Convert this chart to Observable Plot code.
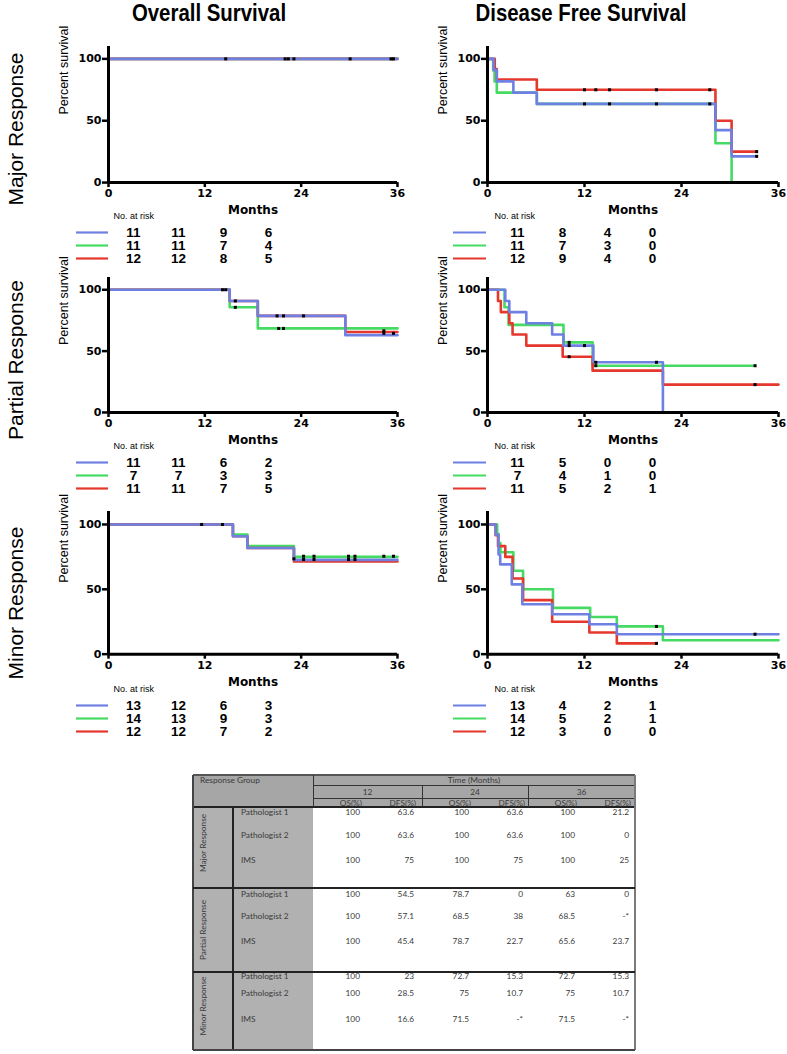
<!DOCTYPE html>
<html><head><meta charset="utf-8">
<script src="https://cdn.jsdelivr.net/npm/d3@7"></script>
<script src="https://cdn.jsdelivr.net/npm/@observablehq/plot@0.6"></script>
<style>
body{margin:0;background:#fff;}
#root{position:relative;width:787px;height:1054px;overflow:hidden;background:#fff;}
#root svg{position:absolute;}
.title{position:absolute;font-family:"Liberation Sans",Arial,sans-serif;font-weight:bold;font-size:24px;color:#000;white-space:nowrap;transform:translate(-50%,-50%) scaleX(0.85);}
.rowlab{position:absolute;font-family:"Liberation Sans",Arial,sans-serif;font-size:21px;color:#000;white-space:nowrap;transform:translate(-50%,-50%) rotate(-90deg);}
.tt{position:absolute;font-family:Lato,"Open Sans",sans-serif;font-size:8.3px;color:#3a3a3a;white-space:nowrap;line-height:1;}
.ln{position:absolute;}
</style></head><body><div id="root"></div><script>
// ---------------- DATA ----------------
const endpoints = ["Overall Survival", "Disease Free Survival"];
const responseGroups = ["Major Response", "Partial Response", "Minor Response"];
const raters = ["Pathologist 1", "Pathologist 2", "IMS"];
const raterColors = ["#6f80e3", "#45da62", "#e5372c"];
const xTicks = [0, 12, 24, 36];
const yTicks = [0, 50, 100];
const riskTimes = [0, 12, 24, 36];

// Kaplan-Meier step points [month, percent] — Major response
const osMajorP1 = [[0,100],[36,100]];
const osMajorP2 = [[0,100],[36,100]];
const osMajorIMS = [[0,100],[36,100]];
const osMajorCensor = [[14.6,100],[22.0,100],[22.4,100],[23.1,100],[30.1,100],[35.2,100],[35.5,100]];
const dfsMajorP1 = [[0,100],[0.75,90.9],[1.15,81.8],[3.2,72.7],[6.1,63.6],[28.2,42.4],[30.2,21.2],[33.3,21.2]];
const dfsMajorP2 = [[0,100],[0.7,90.9],[0.87,81.8],[1.15,72.7],[6.1,63.6],[28.2,31.8],[30.2,0]];
const dfsMajorIMS = [[0,100],[0.9,91.7],[1.15,83.3],[6.1,75],[28.2,50],[30.2,25],[33.3,25]];
const dfsMajorCensor = [[12.0,75],[13.4,75],[15.1,75],[20.9,75],[27.5,75],[12.0,63.6],[15.1,63.6],[20.9,63.6],[27.5,63.6],[33.3,25],[33.3,21.2]];
// Partial response
const osPartialP1 = [[0,100],[15.1,90.9],[18.6,78.7],[29.5,63],[36,63]];
const osPartialP2 = [[0,100],[15.1,85.7],[18.6,68.5],[36,68.5]];
const osPartialIMS = [[0,100],[15.1,90.9],[18.6,78.7],[29.5,65.6],[36,65.6]];
const osPartialCensor = [[14.2,100],[14.6,100],[15.8,90.9],[15.8,85.7],[21.0,78.7],[21.8,78.7],[24.3,78.7],[21.2,68.5],[21.8,68.5],[34.3,66.5],[34.3,64.5],[35.5,64.5]];
const dfsPartialP1 = [[0,100],[2.2,90.9],[2.7,81.8],[4.8,72.7],[8.0,63.6],[9.4,54.5],[13.1,40.9],[21.7,0]];
const dfsPartialP2 = [[0,100],[2.1,85.7],[2.6,71.4],[9.4,57.1],[13.0,38.1],[33.1,38.1]];
const dfsPartialIMS = [[0,100],[1.3,90.9],[1.65,81.8],[2.7,72.7],[3.1,63.6],[4.8,54.5],[9.3,45.4],[13.0,34.1],[21.7,22.7],[36,22.7]];
const dfsPartialCensor = [[10.1,57.1],[10.1,54.5],[10.1,45.4],[12.0,54.5],[13.4,40.9],[13.4,38.1],[20.9,40.9],[33.1,38.1],[33.1,22.7]];
// Minor response
const osMinorP1 = [[0,100],[15.5,90.9],[17.3,81.8],[23.1,72.7],[36,72.7]];
const osMinorP2 = [[0,100],[15.5,92.3],[17.3,83.3],[23.1,75],[36,75]];
const osMinorIMS = [[0,100],[15.5,90.9],[17.3,81.8],[23.1,71.5],[36,71.5]];
const osMinorCensor = [[11.6,100],[14.2,100],[23.1,73.5],[24.3,75.5],[24.3,73],[25.6,75.5],[25.6,73],[29.9,75.5],[29.9,73],[30.7,75.5],[30.7,73],[34.3,75.5],[35.5,75.5]];
const dfsMinorP1 = [[0,100],[1.0,92.3],[1.36,76.9],[1.57,69.2],[3.0,53.8],[4.3,38.5],[8.0,30.8],[12.6,23.1],[16.0,15.4],[36,15.4]];
const dfsMinorP2 = [[0,100],[1.2,92.9],[1.36,85.7],[1.6,78.6],[3.2,64.3],[4.4,50],[8.1,35.7],[12.7,28.6],[16.0,21.4],[21.7,10.7],[36,10.7]];
const dfsMinorIMS = [[0,100],[1.0,91.7],[1.3,83.3],[2.2,75],[3.1,58.3],[4.4,41.7],[8.0,25],[12.6,16.7],[16.0,8.3],[20.9,8.3]];
const dfsMinorCensor = [[20.9,21.4],[20.9,8.3],[33.1,15.4]];

// Numbers at risk (rows: Pathologist 1, Pathologist 2, IMS; columns: 0,12,24,36 months)
const osMajorRisk = [[11,11,9,6],[11,11,7,4],[12,12,8,5]];
const dfsMajorRisk = [[11,8,4,0],[11,7,3,0],[12,9,4,0]];
const osPartialRisk = [[11,11,6,2],[7,7,3,3],[11,11,7,5]];
const dfsPartialRisk = [[11,5,0,0],[7,4,1,0],[11,5,2,1]];
const osMinorRisk = [[13,12,6,3],[14,13,9,3],[12,12,7,2]];
const dfsMinorRisk = [[13,4,2,1],[14,5,2,1],[12,3,0,0]];

// Summary table
const tableTimes = ["12", "24", "36"];
const tableMeasures = ["OS(%)", "DFS(%)"];
const majorValues = [["100","63.6","100","63.6","100","21.2"],["100","63.6","100","63.6","100","0"],["100","75","100","75","100","25"]];
const partialValues = [["100","54.5","78.7","0","63","0"],["100","57.1","68.5","38","68.5","-*"],["100","45.4","78.7","22.7","65.6","23.7"]];
const minorValues = [["100","23","72.7","15.3","72.7","15.3"],["100","28.5","75","10.7","75","10.7"],["100","16.6","71.5","-*","71.5","-*"]];

// ---------------- LAYOUT ----------------
const SANS = "Liberation Sans, Arial, sans-serif";
const BOLD = "DejaVu Sans, sans-serif";
const root = d3.select("#root");
const panels = [
  [{curves:[osMajorP1,osMajorP2,osMajorIMS], censors:osMajorCensor, risk:osMajorRisk},
   {curves:[dfsMajorP1,dfsMajorP2,dfsMajorIMS], censors:dfsMajorCensor, risk:dfsMajorRisk}],
  [{curves:[osPartialP1,osPartialP2,osPartialIMS], censors:osPartialCensor, risk:osPartialRisk},
   {curves:[dfsPartialP1,dfsPartialP2,dfsPartialIMS], censors:dfsPartialCensor, risk:dfsPartialRisk}],
  [{curves:[osMinorP1,osMinorP2,osMinorIMS], censors:osMinorCensor, risk:osMinorRisk},
   {curves:[dfsMinorP1,dfsMinorP2,dfsMinorIMS], censors:dfsMinorCensor, risk:dfsMinorRisk}]
];
const colGeom = [
  {L:0, W:400, mL:108, aw:289, keyA:76, keyB:108, risk:[132,268], nar:113, titleX:209},
  {L:400, W:387, mL:87, aw:291, keyA:453, keyB:486, risk:[516,653], nar:494, titleX:581}
];
const rowY0 = [182, 412, 654];
const rowY100 = [58.3, 289.3, 524.3];
const riskTopY = [216, 446, 689];
const rowLabelY = [129, 360, 603];

endpoints.forEach((t, c) => {
  root.append("div").attr("class", "title").style("left", colGeom[c].titleX + "px").style("top", "13px").text(t);
});
responseGroups.forEach((t, r) => {
  root.append("div").attr("class", "rowlab").style("left", "16px").style("top", rowLabelY[r] + "px").text(t);
});

function place(svg, left, top) {
  svg.style.left = left + "px";
  svg.style.top = top + "px";
  root.node().appendChild(svg);
}

panels.forEach((rowPanels, r) => rowPanels.forEach((p, c) => {
  const g = colGeom[c];
  const y0 = rowY0[r], unit = (rowY0[r] - rowY100[r]) / 100;
  const frameTop = y0 - 110 * unit;
  const top = frameTop - 15;
  const height = (y0 - frameTop) + 15 + 40;
  const lines = [1, 2, 0].flatMap(i => p.curves[i].map(([t, s]) => ({t, s, rater: raters[i]})));
  const cens = p.censors.map(([t, s]) => ({t, s}));
  const chart = Plot.plot({
    width: g.W, height, marginLeft: g.mL, marginRight: g.W - g.mL - g.aw, marginTop: 15, marginBottom: 40,
    style: {background: "transparent", overflow: "visible"},
    x: {domain: [0, 36], axis: null},
    y: {domain: [0, 110], axis: null},
    color: {domain: raters, range: raterColors},
    marks: [
      Plot.line(lines, {x: "t", y: "s", z: "rater", stroke: "rater", curve: "step-after", strokeWidth: 2.6}),
      Plot.dot(cens, {x: "t", y: "s", symbol: "square", r: 1.7, fill: "#000"}),
      Plot.axisY({ticks: yTicks, tickSize: 6, tickPadding: 1, strokeWidth: 2.5, fontFamily: BOLD, fontWeight: "bold", fontSize: 11, label: null}),
      Plot.axisX({ticks: xTicks, tickSize: 5, tickPadding: 2, strokeWidth: 2.5, fontFamily: BOLD, fontWeight: "bold", fontSize: 11, label: null}),
      Plot.ruleX([0], {y1: 0, y2: 110, strokeWidth: 3}),
      Plot.ruleY([0], {x1: 0, x2: 36, strokeWidth: 3}),
      Plot.text(["Months"], {text: d => d, frameAnchor: "bottom", dy: 28, lineAnchor: "middle", fontFamily: BOLD, fontWeight: "bold", fontSize: 12}),
      Plot.text(["Percent survival"], {text: d => d, frameAnchor: "left", dx: -45, rotate: -90, fontFamily: SANS, fontSize: 12.5})
    ]
  });
  place(chart, g.L, top);

  // risk table
  const riskData = p.risk.flatMap((row, i) => row.map((n, j) => ({rater: raters[i], time: riskTimes[j], n})));
  const rTop = riskTopY[r] - 8;
  const riskChart = Plot.plot({
    width: g.W, height: 60,
    marginLeft: g.keyA - g.L, marginRight: g.W - (g.keyB - g.L), marginTop: 8, marginBottom: 10,
    style: {background: "transparent", overflow: "visible"},
    x: {type: "point", domain: riskTimes, range: g.risk.map(v => v - g.L), padding: 0, axis: null},
    y: {type: "point", domain: raters, range: [24, 50], padding: 0, axis: null},
    color: {domain: raters, range: raterColors},
    marks: [
      Plot.ruleY(raters, {y: d => d, stroke: d => d, strokeWidth: 2.2}),
      Plot.text(riskData, {x: "time", y: "rater", text: "n", fontFamily: SANS, fontWeight: "bold", fontSize: 13.5}),
      Plot.text(["No. at risk"], {text: d => d, frameAnchor: "top-right", dx: g.nar - g.keyB, textAnchor: "start", lineAnchor: "middle", fontFamily: SANS, fontSize: 9})
    ]
  });
  place(riskChart, g.L, rTop);
}));

// ---------------- SUMMARY TABLE ----------------
const TX = {left: 193, c1: 233, c2: 313, right: 635};
const TY = {top: 775, h1: 785, h2: 798, h3: 807, bottom: 1050};
const timeStarts = [313, 422, 528, 635];
const groupTops = [807, 888, 972, 1050];
const rowCenters = [[812, 835, 860], [894, 916, 941], [976, 993, 1019]];
const groupLabelY = [843, 930, 1006];
const groupValues = [majorValues, partialValues, minorValues];

function box(x1, y1, x2, y2, c) {
  root.append("div").attr("class", "ln").style("left", x1 + "px").style("top", y1 + "px")
    .style("width", (x2 - x1) + "px").style("height", (y2 - y1) + "px").style("background", c);
}
function hLine(x1, x2, y, w, c) { box(x1, y - w / 2, x2, y + w / 2, c); }
function vLine(x, y1, y2, w, c) { box(x - w / 2, y1, x + w / 2, y2, c); }
function label(text, x, y, align, rot) {
  const tx = align === "left" ? "0" : align === "right" ? "-100%" : "-50%";
  root.append("div").attr("class", "tt").style("left", x + "px").style("top", y + "px")
    .style("transform", `translate(${tx},-50%)` + (rot ? " rotate(-90deg)" : "")).text(text);
}

box(TX.left, TY.top, TX.right, TY.h3, "#a6a6a6");
box(TX.left, TY.h3, TX.c2, TY.bottom, "#b1b1b1");
hLine(TX.left, TX.right, TY.top, 1.5, "#555");
hLine(TX.c2, TX.right, TY.h1, 1, "#333");
hLine(TX.c2, TX.right, TY.h2, 1, "#333");
hLine(TX.left, TX.right, TY.h3, 1.5, "#222");
vLine(TX.c2, TY.top, TY.h3, 1, "#333");
timeStarts.slice(1, 3).forEach(x => vLine(x, TY.h1, TY.h3, 1, "#333"));
vLine(TX.left, TY.top, TY.bottom, 1.5, "#444");
vLine(TX.c1, TY.h3, TY.bottom, 1.5, "#222");
vLine(TX.right, TY.top, TY.bottom, 2.5, "#7a7a7a");
groupTops.slice(1, 3).forEach(y => hLine(TX.left, TX.right, y, 1.5, "#222"));
hLine(TX.left, TX.right, TY.bottom, 1.5, "#444");

label("Response Group", 200, 780, "left");
label("Time (Months)", (TX.c2 + TX.right) / 2, 780, "center");
tableTimes.forEach((t, i) => {
  const s = timeStarts[i], e = timeStarts[i + 1];
  label(t, (s + e) / 2, 791.5, "center");
  label(tableMeasures[0], s + 49, 802.5, "right");
  label(tableMeasures[1], s + 103, 802.5, "right");
});
responseGroups.forEach((gName, gi) => {
  label(gName, 203, groupLabelY[gi], "center", true);
  raters.forEach((rName, ri) => {
    const y = rowCenters[gi][ri];
    label(rName, 241, y, "left");
    groupValues[gi][ri].forEach((v, k) => {
      const s = timeStarts[Math.floor(k / 2)];
      label(v, s + (k % 2 === 0 ? 47 : 101), y, "right");
    });
  });
});
</script></body></html>
